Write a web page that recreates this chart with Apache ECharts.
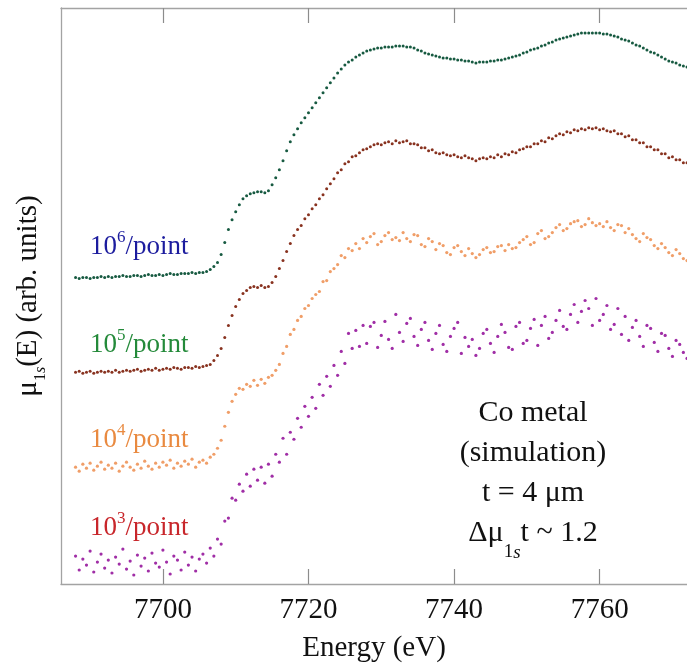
<!DOCTYPE html>
<html>
<head>
<meta charset="utf-8">
<title>Co metal XANES</title>
<script src="https://cdn.jsdelivr.net/npm/echarts@6/dist/echarts.min.js"></script>
<style>
html, body { margin: 0; padding: 0; background: #fff; }
#chart { width: 687px; height: 668px; }
</style>
</head>
<body>
<div id="chart"></div>
<script>
// energy grid (eV), 0.5 eV steps
const energy = [
  7688,7688.5,7689,7689.5,7690,7690.5,7691,7691.5,7692,7692.5,
  7693,7693.5,7694,7694.5,7695,7695.5,7696,7696.5,7697,7697.5,
  7698,7698.5,7699,7699.5,7700,7700.5,7701,7701.5,7702,7702.5,
  7703,7703.5,7704,7704.5,7705,7705.5,7706,7706.5,7707,7707.5,
  7708,7708.5,7709,7709.5,7710,7710.5,7711,7711.5,7712,7712.5,
  7713,7713.5,7714,7714.5,7715,7715.5,7716,7716.5,7717,7717.5,
  7718,7718.5,7719,7719.5,7720,7720.5,7721,7721.5,7722,7722.5,
  7723,7723.5,7724,7724.5,7725,7725.5,7726,7726.5,7727,7727.5,
  7728,7728.5,7729,7729.5,7730,7730.5,7731,7731.5,7732,7732.5,
  7733,7733.5,7734,7734.5,7735,7735.5,7736,7736.5,7737,7737.5,
  7738,7738.5,7739,7739.5,7740,7740.5,7741,7741.5,7742,7742.5,
  7743,7743.5,7744,7744.5,7745,7745.5,7746,7746.5,7747,7747.5,
  7748,7748.5,7749,7749.5,7750,7750.5,7751,7751.5,7752,7752.5,
  7753,7753.5,7754,7754.5,7755,7755.5,7756,7756.5,7757,7757.5,
  7758,7758.5,7759,7759.5,7760,7760.5,7761,7761.5,7762,7762.5,
  7763,7763.5,7764,7764.5,7765,7765.5,7766,7766.5,7767,7767.5,
  7768,7768.5,7769,7769.5,7770,7770.5,7771,7771.5,7772
];

// mu(E), arb. units, curves offset vertically
const mu1e6 = [
  307,306,307,307,306,307,307,308,307,308,
  307,308,308,309,308,308,309,309,308,309,
  310,309,309,310,309,310,311,310,310,311,
  311,311,312,311,312,312,313,315,318,322,
  330,342,355,365,373,380,386,389,391,392,
  393,393,392,394,400,407,415,424,434,443,
  450,456,462,467,472,477,482,487,492,497,
  502,507,512,516,520,523,525,528,530,532,
  534,535,536,537,537,538,538,538,539,539,
  539,538,538,537,535,534,532,531,530,529,
  528,527,527,526,526,525,525,524,524,523,
  522,523,523,523,524,524,525,525,526,527,
  528,529,530,532,533,535,536,537,539,540,
  542,543,545,546,547,548,549,550,551,552,
  552,552,552,552,552,551,551,550,549,548,
  546,545,544,542,540,539,537,535,533,532,
  530,528,526,524,523,522,520,519,518
];
const mu1e5 = [
  212,213,211,212,213,211,212,213,212,213,
  212,214,212,213,214,213,214,215,213,214,
  215,214,216,214,215,216,215,217,216,215,
  217,217,216,218,217,218,219,220,224,229,
  236,247,259,269,278,285,291,294,297,298,
  297,299,297,298,302,308,316,324,333,341,
  349,355,359,366,370,376,380,386,390,396,
  401,406,412,415,421,423,428,429,432,435,
  436,438,440,441,440,442,443,441,444,442,
  443,444,441,441,440,437,437,434,435,432,
  431,432,430,429,430,428,427,429,427,426,
  424,426,427,426,428,427,430,428,431,430,
  433,432,435,436,438,438,441,441,444,443,
  447,446,449,451,450,453,452,455,454,456,
  455,457,456,457,455,456,454,453,454,451,
  451,448,449,445,445,442,442,438,438,435,
  435,431,431,427,428,425,425,422,422
];
const mu1e4 = [
  117,113,120,116,121,114,118,122,115,119,
  116,121,113,118,122,117,114,120,116,123,
  118,115,121,117,122,119,124,116,121,118,
  123,120,125,117,122,124,121,127,130,136,
  144,158,172,183,190,196,195,200,198,204,
  199,205,201,207,209,214,220,231,238,250,
  255,264,268,276,279,286,290,293,303,304,
  313,316,320,329,327,336,334,341,336,346,
  342,348,351,340,343,349,352,345,347,344,
  352,346,343,350,349,340,338,346,343,335,
  341,339,332,330,337,339,333,329,336,331,
  327,330,335,337,332,333,338,339,334,340,
  336,337,342,345,348,340,342,351,354,346,
  348,352,357,360,354,356,361,363,364,358,
  360,366,362,359,361,358,363,357,354,360,
  359,352,356,350,346,343,351,347,345,339,
  336,341,337,332,329,335,331,326,324
];
const mu1e3 = [
  28,14,25,19,33,12,22,30,16,24,
  11,27,20,35,15,23,9,29,18,26,
  13,31,21,17,34,22,10,28,24,14,
  32,19,27,13,25,30,21,36,28,45,
  40,63,66,86,84,100,93,110,98,115,
  104,117,101,120,108,130,122,146,130,152,
  145,166,157,178,168,187,176,200,189,208,
  198,219,209,233,221,251,236,254,238,259,
  241,258,262,237,249,263,245,236,270,252,
  243,261,266,248,239,255,262,244,235,251,
  259,240,233,248,256,262,231,247,238,245,
  229,236,251,255,241,232,248,260,252,237,
  235,258,262,241,244,256,265,239,259,268,
  246,252,264,274,258,255,270,280,262,273,
  284,276,259,286,264,270,279,255,260,276,
  250,268,244,257,264,248,238,259,256,242,
  233,251,249,236,228,244,240,232,226
];

const tickValues = [7700, 7720, 7740, 7760];
const countExponents = ['6', '5', '4', '3'];
const countColors = ['#1c1c9e', '#248a3a', '#e98a40', '#c8262b'];
const dotColors = ['#175a41', '#88321f', '#f09e68', '#a02ea6'];
const labelTops = [229, 327, 422, 510];

const serif = '"Liberation Serif", "Times New Roman", serif';
const axisGray = '#a3a3a3';

function pairs(vals) {
  return energy.map(function (e, i) { return [e, vals[i]]; });
}

const chart = echarts.init(document.getElementById('chart'));

const allSeries = [mu1e6, mu1e5, mu1e4, mu1e3].map(function (vals, k) {
  return {
    type: 'scatter',
    data: pairs(vals),
    symbol: 'circle',
    symbolSize: k < 2 ? 3 : 3.2,
    itemStyle: { color: dotColors[k], opacity: 1 },
    silent: true,
    xAxisIndex: 0
  };
});

const countLabels = countExponents.map(function (p, k) {
  return {
    type: 'text',
    x: 90,
    y: labelTops[k],
    style: {
      text: '{a|10}{b|' + p + '}{a|/point}',
      align: 'left',
      verticalAlign: 'top',
      textAlign: 'left',
      textVerticalAlign: 'top',
      fill: countColors[k],
      rich: {
        a: { fontSize: 27, fontFamily: serif, lineHeight: 36, fill: countColors[k], color: countColors[k] },
        b: { fontSize: 17, fontFamily: serif, lineHeight: 17, verticalAlign: 'top', fill: countColors[k], color: countColors[k] }
      }
    }
  };
});

const noteRich = {
  m: { fontSize: 30, fontFamily: serif, lineHeight: 40, fill: '#111', color: '#111' },
  s1: { fontSize: 19, fontFamily: serif, lineHeight: 10, verticalAlign: 'top', padding: [30, 0, 0, 0], fill: '#111', color: '#111' },
  s2: { fontSize: 19, fontFamily: serif, fontStyle: 'italic', lineHeight: 10, verticalAlign: 'top', padding: [30, 0, 0, 0], fill: '#111', color: '#111' }
};

chart.setOption({
  animation: false,
  backgroundColor: '#fff',
  grid: { left: 61, right: 0, top: 8, bottom: 83 },
  xAxis: [
    {
      type: 'value',
      min: 7686,
      max: 7772,
      position: 'bottom',
      axisLine: { show: true, lineStyle: { color: axisGray, width: 1.3 } },
      axisTick: { show: true, inside: true, length: 15, customValues: tickValues, lineStyle: { color: '#8c8c8c', width: 1.2 } },
      axisLabel: {
        customValues: tickValues,
        formatter: function (v) { return String(v); },
        fontSize: 29,
        fontFamily: serif,
        color: '#111',
        margin: 12
      },
      splitLine: { show: false },
      name: 'Energy (eV)',
      nameLocation: 'middle',
      nameGap: 50,
      nameTextStyle: { fontSize: 29, fontFamily: serif, color: '#111' }
    },
    {
      type: 'value',
      min: 7686,
      max: 7772,
      position: 'top',
      axisLine: { show: true, lineStyle: { color: axisGray, width: 1.3 } },
      axisTick: { show: true, inside: true, length: 15, customValues: tickValues, lineStyle: { color: '#8c8c8c', width: 1.2 } },
      axisLabel: { show: false },
      splitLine: { show: false }
    }
  ],
  yAxis: {
    type: 'value',
    min: 0,
    max: 577,
    axisLine: { show: true, lineStyle: { color: axisGray, width: 1.3 } },
    axisTick: { show: false },
    axisLabel: { show: false },
    splitLine: { show: false },
    name: '{m|μ}{s1|1}{s2|s}{m|(E) (arb. units)}',
    nameLocation: 'middle',
    nameRotate: 90,
    nameGap: 16,
    nameTextStyle: {
      rich: {
        m: { fontSize: 29, fontFamily: serif, color: '#111', lineHeight: 34 },
        s1: { fontSize: 16, fontFamily: serif, color: '#111', lineHeight: 10, verticalAlign: 'top', padding: [22, 0, 0, 0] },
        s2: { fontSize: 16, fontFamily: serif, fontStyle: 'italic', color: '#111', lineHeight: 10, verticalAlign: 'top', padding: [22, 0, 0, 0] }
      }
    }
  },
  graphic: countLabels.concat([
    {
      type: 'text',
      x: 533,
      y: 393,
      style: {
        text: '{m|Co metal}\n{m|(simulation)}\n{m|t = 4 μm}\n{m|Δμ}{s1|1}{s2|s}{m|t ~ 1.2}',
        align: 'center',
        verticalAlign: 'top',
        textAlign: 'center',
        textVerticalAlign: 'top',
        fill: '#111',
        rich: noteRich
      }
    }
  ]),
  series: allSeries
});
</script>
</body>
</html>
